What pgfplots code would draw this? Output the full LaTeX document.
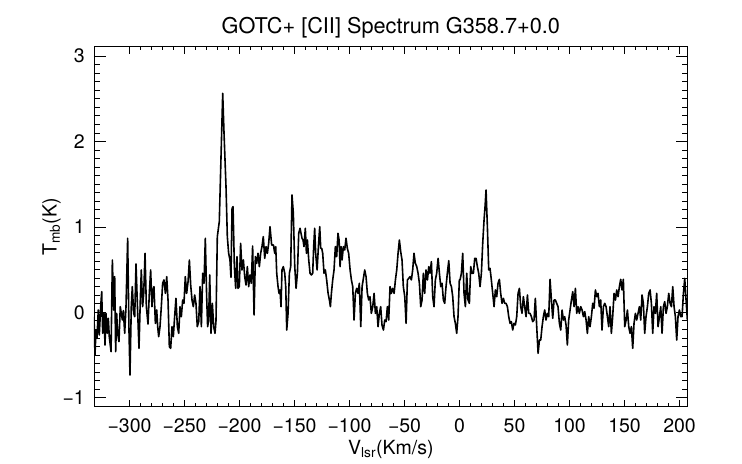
\documentclass[border=0pt]{standalone}
\usepackage{fontspec}
\setmainfont{TeX Gyre Heros}
\usepackage{pgfplots}
\pgfplotsset{compat=1.18}
\begin{document}
\begin{tikzpicture}
\useasboundingbox (-94bp,-57.3bp) rectangle (648bp,406.7bp);
\begin{axis}[
  at={(0,0)}, anchor=south west,
  scale only axis, width=593.7bp, height=360bp,
  xmin=-332.3, xmax=207.4, ymin=-1.105, ymax=3.11,
  xtick={-300,-250,-200,-150,-100,-50,0,50,100,150,200},
  xticklabels={−300,−250,−200,−150,−100,−50,0,50,100,150,200},
  ytick={-1,0,1,2,3},
  yticklabels={−1,0,1,2,3},
  minor x tick num=4, minor y tick num=9,
  tick align=inside,
  xtick style={/pgfplots/major tick length=7.2bp,/pgfplots/minor tick length=3.6bp, line width=0.8bp, black},
  ytick style={/pgfplots/major tick length=11.9bp,/pgfplots/minor tick length=5.9bp, line width=0.8bp, black},
  axis line style={line width=0.9bp, black},
  tick label style={font=\fontsize{19.5bp}{22bp}\selectfont},
  xticklabel style={anchor=north, inner sep=0pt, yshift=-11.3bp},
  yticklabel style={anchor=east, inner sep=0pt, xshift=-9bp},
  title={GOTC+ [CII] Spectrum G358.7+0.0},
  title style={font=\fontsize{21.7bp}{25bp}\selectfont, at={(axis description cs:0.5,1)}, anchor=base, inner sep=0pt, yshift=7.4bp},
  xlabel={V\textsubscript{lsr}(Km/s)},
  xlabel style={font=\fontsize{19.5bp}{22bp}\selectfont, at={(axis description cs:0.5,0)}, anchor=base, inner sep=0pt, yshift=-47.3bp},
  ylabel={T\textsubscript{mb}(K)},
  every axis y label/.style={font=\fontsize{19.5bp}{22bp}\selectfont, at={(axis description cs:-0.0628,0.5)}, anchor=base, rotate=90, inner sep=0pt},
]
\addplot[black, line width=1.6bp, line join=round, mark=none] coordinates {
(-332.3,-0.051) (-331.4,-0.500) (-330.5,-0.207) (-329.6,-0.304) (-328.4,0.027) (-327.5,-0.265)
(-326.2,0.066) (-325.3,0.242) (-324.4,-0.246) (-323.2,-0.012) (-322.3,-0.383) (-321.4,-0.012)
(-320.2,-0.246) (-319.3,-0.070) (-318.4,-0.285) (-316.8,-0.461) (-315.6,0.613) (-314.4,0.027)
(-313.5,0.418) (-312.6,-0.461) (-311.7,-0.012) (-310.8,-0.246) (-309.6,-0.343) (-308.4,0.066)
(-307.5,-0.012) (-306.5,-0.090) (-305.6,0.020) (-304.4,-0.246) (-303.2,0.066) (-301.7,0.867)
(-300.5,-0.207) (-299.6,-0.734) (-298.4,0.066) (-297.5,0.301) (-296.2,-0.012) (-295.3,-0.051)
(-294.1,0.566) (-292.9,0.105) (-291.4,-0.422) (-290.2,0.144) (-289.3,0.496) (-288.1,0.066)
(-287.1,0.222) (-285.9,0.691) (-284.7,0.066) (-283.2,-0.137) (-282.0,0.222) (-280.8,0.496)
(-279.6,0.066) (-278.7,0.262) (-277.8,0.301) (-276.5,-0.129) (-275.3,0.027) (-274.4,-0.168)
(-273.5,-0.285) (-272.3,-0.168) (-271.1,0.066) (-269.9,0.340) (-268.7,0.379) (-267.4,0.222)
(-266.2,0.418) (-265.0,0.144) (-263.8,-0.402) (-262.6,-0.422) (-261.4,-0.168) (-260.2,-0.285)
(-259.0,-0.051) (-257.8,0.164) (-256.5,-0.168) (-255.3,-0.246) (-254.1,0.066) (-252.9,-0.051)
(-251.7,0.144) (-250.5,0.105) (-249.3,0.418) (-248.1,0.222) (-246.8,0.359) (-245.6,0.613)
(-244.4,0.320) (-243.2,0.144) (-242.0,0.066) (-240.8,0.203) (-239.6,0.105) (-238.4,-0.168)
(-237.1,-0.109) (-235.9,0.301) (-234.7,-0.168) (-233.5,0.457) (-232.3,0.340) (-231.1,0.867)
(-229.9,0.183) (-229.0,-0.168) (-228.1,-0.090) (-227.1,0.437) (-225.9,-0.246) (-224.7,0.105)
(-223.5,-0.168) (-222.3,-0.246) (-221.4,-0.100) (-220.2,0.886) (-218.4,1.062) (-215.3,2.564)
(-214.1,2.096) (-212.3,1.472) (-211.1,0.886) (-209.9,0.691) (-208.7,0.613) (-207.8,0.410)
(-206.8,1.218) (-205.9,1.237) (-204.7,0.535) (-203.5,0.281) (-202.3,0.652) (-201.4,0.281)
(-200.2,0.301) (-199.0,0.808) (-197.8,0.496) (-196.5,0.613) (-195.3,0.418) (-194.1,0.320)
(-192.9,0.535) (-191.7,0.301) (-190.5,0.437) (-189.3,0.340) (-188.1,0.777) (-186.8,-0.031)
(-185.6,0.652) (-184.4,0.574) (-183.2,0.691) (-182.0,0.535) (-180.8,0.691) (-179.6,0.769)
(-178.4,0.886) (-177.1,0.632) (-175.9,0.769) (-174.7,0.691) (-173.5,0.808) (-172.3,1.003)
(-170.8,0.788) (-169.2,0.788) (-168.0,0.691) (-167.1,0.769) (-166.2,0.457) (-165.0,0.301)
(-164.1,0.222) (-163.2,0.262) (-162.3,0.066) (-161.4,0.496) (-160.2,0.535) (-158.9,0.457)
(-158.0,0.301) (-157.1,-0.207) (-155.9,-0.012) (-154.7,0.457) (-153.5,0.535) (-152.3,1.374)
(-151.1,1.159) (-149.8,0.535) (-148.6,0.281) (-147.4,0.457) (-146.2,0.925) (-145.0,0.984)
(-144.1,0.925) (-143.2,0.867) (-142.3,0.847) (-141.4,0.769) (-140.2,0.984) (-139.2,0.691)
(-138.3,0.847) (-137.1,0.613) (-135.9,0.457) (-134.7,0.437) (-133.5,0.457) (-132.6,0.769)
(-131.7,0.984) (-130.8,0.691) (-129.5,0.496) (-128.3,0.769) (-127.1,1.003) (-126.2,0.749)
(-125.3,0.749) (-124.4,0.691) (-123.2,0.457) (-122.0,0.496) (-120.8,0.379) (-119.5,0.222)
(-118.3,0.144) (-117.4,0.066) (-116.5,0.222) (-115.3,0.379) (-114.1,0.496) (-112.9,0.769)
(-111.7,0.652) (-110.5,0.925) (-109.5,0.847) (-108.6,0.535) (-107.7,0.769) (-106.8,0.613)
(-105.6,0.769) (-104.4,0.730) (-103.2,0.867) (-102.0,0.749) (-100.8,0.691) (-99.5,0.496)
(-98.3,0.379) (-97.1,0.301) (-95.9,-0.090) (-94.7,0.222) (-93.5,0.281) (-92.3,0.222)
(-91.1,0.340) (-89.8,-0.168) (-88.6,0.301) (-87.4,0.398) (-86.2,0.496) (-85.0,0.418)
(-83.8,0.222) (-82.6,0.144) (-81.4,0.183) (-80.2,-0.012) (-78.9,0.066) (-77.7,0.222)
(-76.5,-0.012) (-75.3,0.066) (-74.1,-0.168) (-72.9,-0.012) (-71.7,0.066) (-70.5,-0.148)
(-69.2,-0.207) (-68.0,-0.090) (-66.8,-0.109) (-65.6,0.066) (-64.4,-0.090) (-63.2,0.301)
(-62.0,0.222) (-60.8,0.281) (-59.5,0.222) (-58.3,0.379) (-57.1,0.496) (-55.9,0.691)
(-54.7,0.847) (-53.5,0.710) (-52.3,0.613) (-51.1,0.301) (-49.8,0.183) (-48.6,-0.129)
(-47.4,0.379) (-46.2,0.398) (-45.0,0.418) (-43.8,0.379) (-42.6,0.496) (-41.4,0.691)
(-40.2,0.574) (-38.9,0.535) (-37.7,0.457) (-36.5,0.340) (-35.3,0.066) (-34.1,0.144)
(-32.9,0.457) (-31.7,0.222) (-30.5,0.496) (-29.2,0.379) (-28.0,0.535) (-26.8,0.457)
(-25.6,0.593) (-24.4,0.183) (-23.2,0.066) (-22.0,0.379) (-20.8,0.457) (-19.5,0.632)
(-18.3,0.457) (-17.1,0.301) (-15.9,0.340) (-14.7,0.144) (-13.5,0.105) (-12.3,0.301)
(-11.1,0.457) (-9.8,0.605) (-8.6,0.340) (-7.4,0.301) (-6.2,0.183) (-5.0,-0.051)
(-3.8,-0.129) (-2.6,-0.246) (-1.4,-0.051) (-0.2,0.379)
(0.45,0.379) (1.67,0.457) (2.88,0.691) (4.09,0.222) (5.30,0.066) (6.52,0.457)
(7.73,0.144) (8.94,0.105) (10.15,0.535) (11.36,0.457) (12.58,0.457) (13.79,0.632)
(15.0,0.632) (16.21,0.535) (17.42,0.457) (18.64,0.301) (19.85,0.457) (21.06,0.808)
(22.27,1.081) (23.18,1.237) (24.09,1.432) (25.30,1.003) (26.52,0.496) (27.7,0.515)
(28.9,0.379) (30.15,0.222) (31.36,0.066) (32.57,0.262) (33.79,0.183) (35.0,0.340)
(36.2,0.386) (37.4,0.222) (38.6,0.105) (39.85,0.164) (41.06,0.105) (42.27,0.105)
(43.5,0.066) (44.7,-0.051) (45.9,-0.129) (47.1,-0.109) (48.3,-0.207) (49.5,-0.129)
(50.76,-0.148) (51.97,-0.051) (53.2,0.222) (54.4,0.281) (55.6,0.066) (56.8,-0.012)
(58.0,0.183) (59.2,0.066) (60.45,-0.051) (61.7,0.203) (62.9,-0.012) (64.1,-0.012)
(65.3,-0.051) (66.5,-0.109) (67.7,-0.090) (68.9,0.164) (70.15,-0.168) (71.4,-0.480)
(72.6,-0.324) (73.8,-0.324) (75.0,-0.168) (76.2,-0.051) (77.4,0.027) (78.6,-0.090)
(79.85,-0.012) (81.06,-0.051) (82.27,0.386) (83.5,0.144) (84.7,-0.070) (85.9,0.144)
(87.1,0.144) (88.3,0.105) (89.5,0.066) (90.76,-0.129) (91.97,-0.207) (93.2,0.027)
(94.4,-0.090) (95.6,-0.051) (96.8,-0.148) (98.0,-0.383) (99.2,-0.090) (100.45,0.027)
(101.7,0.144) (102.9,0.242) (104.1,0.066) (105.3,0.281) (106.5,-0.012) (107.7,0.066)
(108.9,-0.012) (110.15,0.066) (111.4,0.027) (112.6,-0.051) (113.8,0.008) (115.0,-0.090)
(116.2,-0.246) (117.4,-0.051) (118.6,-0.168) (119.85,-0.051) (121.06,0.105) (122.27,0.047)
(123.5,0.262) (124.7,0.183) (125.9,0.222) (127.1,0.066) (128.3,0.144) (129.5,-0.207)
(130.76,0.066) (131.97,0.105) (133.2,0.066) (134.4,-0.051) (135.6,-0.168) (136.8,0.066)
(138.0,-0.246) (139.2,-0.051) (140.45,0.222) (141.7,0.144) (142.9,0.262) (144.1,0.183)
(145.3,0.301) (146.5,0.386) (147.7,0.262) (148.9,0.386) (150.15,-0.168) (151.4,-0.090)
(152.6,0.027) (153.8,-0.168) (155.0,-0.246) (156.2,-0.168) (157.4,-0.422) (158.6,-0.129)
(159.85,-0.012) (161.06,-0.090) (162.27,-0.012) (163.5,0.066) (164.7,-0.090) (165.9,0.203)
(167.1,0.105) (168.3,-0.246) (169.5,-0.051) (170.76,0.066) (171.97,0.222) (173.2,0.262)
(174.4,0.105) (175.6,-0.246) (176.8,0.066) (178.0,-0.012) (179.2,0.222) (180.45,-0.168)
(181.7,-0.051) (182.9,0.066) (184.1,-0.246) (185.3,0.066) (186.5,0.125) (187.7,-0.012)
(188.9,0.066) (190.15,0.222) (191.4,0.105) (192.6,0.066) (193.8,0.301) (195.0,0.066)
(196.2,-0.051) (197.4,-0.324) (198.6,-0.051) (199.85,0.027) (201.06,-0.051) (202.27,-0.051)
(203.5,0.222) (204.7,0.398) (205.9,0.144) (207.1,-0.090)
};
\end{axis}
\end{tikzpicture}
\end{document}
